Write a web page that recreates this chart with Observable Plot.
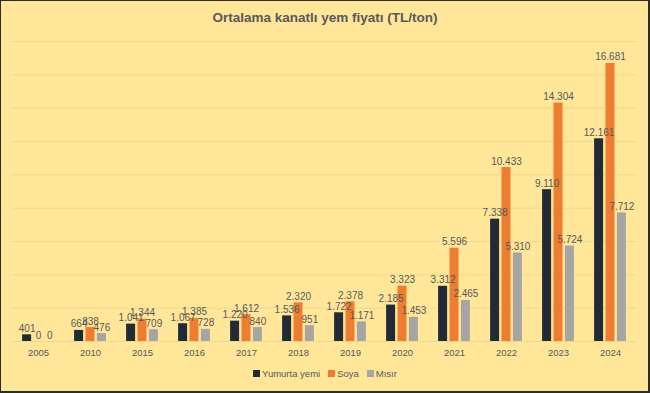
<!DOCTYPE html>
<html>
<head>
<meta charset="utf-8">
<script src="https://cdn.jsdelivr.net/npm/d3@7"></script>
<script src="https://cdn.jsdelivr.net/npm/@observablehq/plot@0.6"></script>
<style>
  html, body { margin: 0; padding: 0; }
  #wrap { position: relative; width: 650px; height: 393px; background: #FFE699; overflow: hidden; font-family: "Liberation Sans", Arial, sans-serif; }
  #frame { position: absolute; left: 0; top: 0; right: 0; bottom: 0; border: 1px solid #2b2b2b; border-right-width: 2px; border-bottom-width: 2px; pointer-events: none; }
  #title { position: absolute; left: 0; top: 0; width: 650px; height: 36px; line-height: 36px; text-align: center; font-weight: bold; font-size: 13.5px; color: #595959; }
  #chart { position: absolute; left: 0; top: 36px; }
  #legend { position: absolute; left: 0; top: 368px; width: 650px; text-align: center; font-size: 9.5px; color: #595959; }
  #legend span.item { margin: 0 4px; }
  #legend span.sw { display: inline-block; width: 7px; height: 7px; margin-right: 2px; vertical-align: 0px; }
</style>
</head>
<body>
<div id="wrap">
  <div id="title">Ortalama kanatlı yem fiyatı (TL/ton)</div>
  <div id="chart"></div>
  <div id="legend"></div>
  <div id="frame"></div>
</div>
<script>
const years = ["2005","2010","2015","2016","2017","2018","2019","2020","2021","2022","2023","2024"];
const seriesNames = ["Yumurta yemi","Soya","Mısır"];
const seriesColors = ["#222A35","#ED7D31","#A5A5A5"];
const yumurta = [401,664,1041,1067,1220,1536,1722,2185,3312,7338,9110,12161];
const soya =    [0,838,1344,1385,1612,2320,2378,3323,5596,10433,14304,16681];
const misir =   [0,476,709,728,840,951,1171,1453,2465,5310,5724,7712];
const yTicks = [0,2000,4000,6000,8000,10000,12000,14000,16000,18000];

const allValues = [yumurta, soya, misir];
const fmt = v => d3.format(",")(v).replace(/,/g, ".");
const offsets = [-11.4, 0, 11.4];
const barW = 9;
const bandW = 52;
const inset = (bandW - barW) / 2;

const marks = [
  Plot.ruleY(yTicks, {stroke: "#ecd98f", strokeWidth: 1})
];
allValues.forEach((vals, i) => {
  const data = years.map((y, j) => ({year: y, value: vals[j]}));
  marks.push(Plot.barY(data, {
    x: "year", y: "value", fill: seriesColors[i],
    insetLeft: inset + offsets[i], insetRight: inset - offsets[i]
  }));
});
allValues.forEach((vals, i) => {
  const data = years.map((y, j) => ({year: y, value: vals[j]}));
  marks.push(Plot.text(data, {
    x: "year", y: "value", text: d => fmt(d.value),
    dx: offsets[i], dy: -3, lineAnchor: "bottom",
    fill: "#595959", fontSize: 10
  }));
});

const chart = Plot.plot({
  width: 650,
  height: 330,
  marginLeft: 12,
  marginRight: 14,
  marginTop: 5,
  marginBottom: 25,
  style: {background: "transparent", fontFamily: "Liberation Sans, Arial, sans-serif", fontSize: "9.5px", color: "#595959"},
  x: {domain: years, padding: 0, label: null, tickSize: 0, tickPadding: 8},
  y: {domain: [0, 18000], axis: null},
  marks
});
document.getElementById("chart").appendChild(chart);

const legend = document.getElementById("legend");
seriesNames.forEach((n, i) => {
  const item = document.createElement("span");
  item.className = "item";
  const sw = document.createElement("span");
  sw.className = "sw";
  sw.style.background = seriesColors[i];
  item.appendChild(sw);
  item.appendChild(document.createTextNode(n));
  legend.appendChild(item);
});
</script>
</body>
</html>
